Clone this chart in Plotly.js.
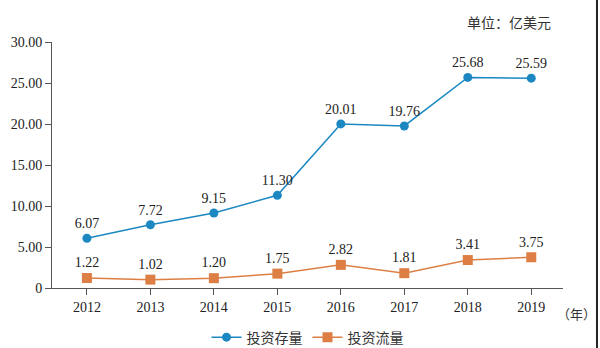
<!DOCTYPE html>
<html><head><meta charset="utf-8">
<script src="https://cdn.plot.ly/plotly-3.0.1.min.js"></script>
<style>body{margin:0;background:#fff}#c{width:600px;height:348px}</style>
</head><body><div id="c"></div>
<script>
const years = ['2012','2013','2014','2015','2016','2017','2018','2019'];
const stock = [6.07, 7.72, 9.15, 11.30, 20.01, 19.76, 25.68, 25.59];
const flow = [1.22, 1.02, 1.20, 1.75, 2.82, 1.81, 3.41, 3.75];
const yTicks = [0, 5, 10, 15, 20, 25, 30];
const yTickText = ['0', '5.00', '10.00', '15.00', '20.00', '25.00', '30.00'];
const names = ['投资存量', '投资流量'];
const unitText = '单位：亿美元';
const yearUnit = '（年）';

const serif = 'Liberation Serif, Times New Roman, serif';
const cjk = 'Noto Sans CJK SC, sans-serif';
const blue = '#1b88c2', orange = '#dd7f45';

const traces = [
  {x: years, y: stock, name: names[0], mode: 'lines+markers+text', type: 'scatter',
   line: {color: blue, width: 1.5}, marker: {color: blue, size: 9, symbol: 'circle'},
   text: stock.map(v => v.toFixed(2)), textposition: 'top center',
   textfont: {family: serif, size: 14, color: '#222'}, cliponaxis: false},
  {x: years, y: flow, name: names[1], mode: 'lines+markers+text', type: 'scatter',
   line: {color: orange, width: 1.5}, marker: {color: orange, size: 10, symbol: 'square'},
   text: flow.map(v => v.toFixed(2)), textposition: 'top center',
   textfont: {family: serif, size: 14, color: '#222'}, cliponaxis: false}
];

const layout = {
  width: 600, height: 348,
  margin: {l: 52, r: 37, t: 42, b: 60},
  paper_bgcolor: '#fff', plot_bgcolor: '#fff',
  showlegend: true,
  legend: {orientation: 'h', x: 0.5, xanchor: 'center', yref: 'container', y: 0.03, yanchor: 'middle',
           font: {family: cjk, size: 14, color: '#333'}, itemwidth: 30},
  xaxis: {type: 'category', range: [-0.55, 7.5], showline: true, linecolor: '#555', linewidth: 1,
          ticks: 'outside', ticklen: 6, tickcolor: '#555', showgrid: false, zeroline: false,
          tickfont: {family: serif, size: 14, color: '#222'}, automargin: false},
  yaxis: {range: [0, 30], tickvals: yTicks, ticktext: yTickText, showline: true, linecolor: '#555',
          linewidth: 1, ticks: 'outside', ticklen: 6, tickcolor: '#555', showgrid: false, zeroline: false,
          tickfont: {family: serif, size: 14, color: '#222'}, automargin: false},
  annotations: [
    {text: unitText, xref: 'paper', yref: 'paper', x: 0.98, y: 1.081, xanchor: 'right', yanchor: 'middle',
     showarrow: false, font: {family: cjk, size: 14, color: '#333'}},
    {text: yearUnit, xref: 'paper', yref: 'paper', x: 0.985, y: -0.102, xanchor: 'left', yanchor: 'middle',
     showarrow: false, font: {family: cjk, size: 13, color: '#333'}}
  ],
  shapes: [
    {type: 'line', xref: 'paper', yref: 'paper', x0: 1.0665, x1: 1.0665, y0: -0.244, y1: 1.171,
     line: {color: '#222', width: 2}, layer: 'above'}
  ]
};
Plotly.newPlot('c', traces, layout, {displayModeBar: false, staticPlot: true});
</script></body></html>
